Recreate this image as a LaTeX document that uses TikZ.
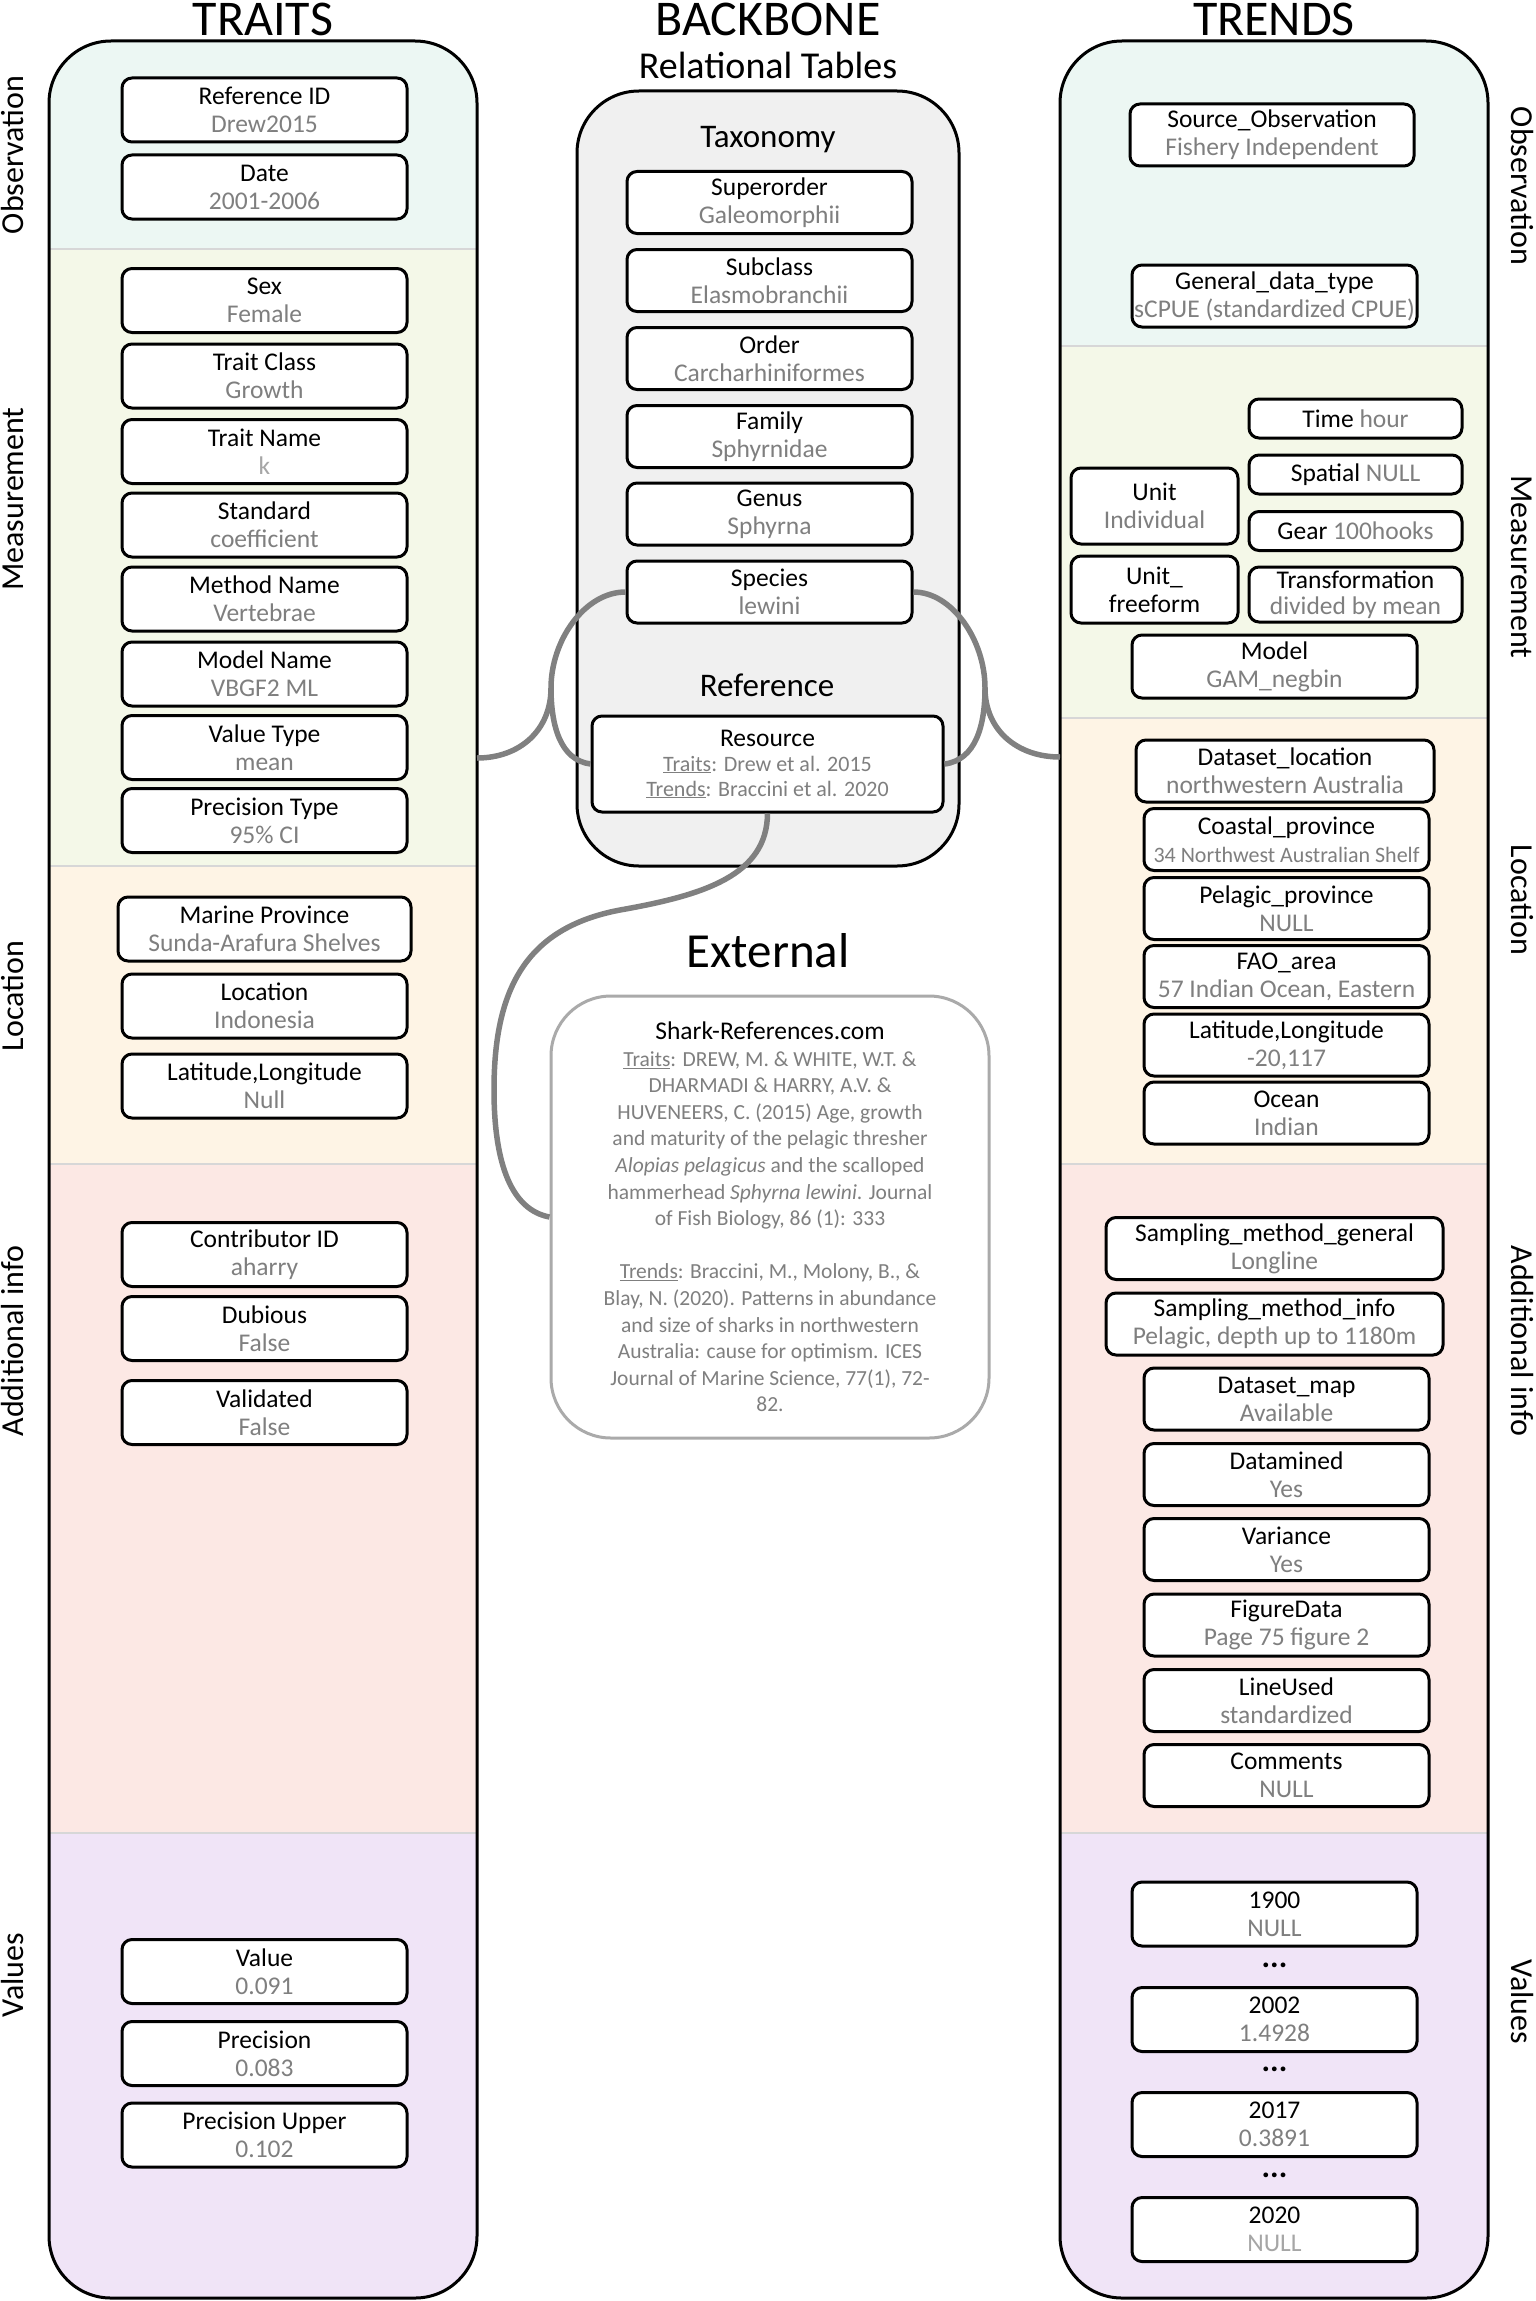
\documentclass[tikz,border=0pt]{standalone}
\usepackage{fontspec}
\setmainfont{Carlito}
\usepackage{xcolor}
\usepackage{tikz}
\usetikzlibrary{positioning}
\definecolor{obsband}{RGB}{236,247,243}
\definecolor{measband}{RGB}{244,248,232}
\definecolor{locband}{RGB}{254,244,229}
\definecolor{addband}{RGB}{252,232,228}
\definecolor{valband}{RGB}{240,228,247}
\definecolor{bonefill}{RGB}{240,240,240}
\definecolor{valgray}{RGB}{127,127,127}
\definecolor{palegray}{RGB}{166,166,166}
\definecolor{linkgray}{RGB}{128,128,128}
\definecolor{sepgray}{RGB}{215,215,215}
\definecolor{extgray}{RGB}{170,170,170}

\newcommand{\gval}[1]{{\color{valgray}#1}}
\newcommand{\pgval}[1]{{\color{palegray}#1}}

\tikzset{
  field/.style={draw, rectangle, rounded corners=10pt, line width=3pt, fill=white,
    minimum width=285pt, minimum height=64pt, inner sep=2pt, align=center,
    font=\fontsize{25.5}{28}\selectfont},
  tfield/.style={field, minimum height=62pt},
  shortfield/.style={field, minimum width=213pt, minimum height=39pt},
  panel/.style={draw, line width=3pt, rounded corners=62pt},
  sepline/.style={draw=sepgray, line width=1.5pt},
  linkline/.style={draw=linkgray, line width=5.5pt},
  heading/.style={font=\fontsize{50}{50}\selectfont, anchor=base, inner sep=0pt},
  subheading/.style={font=\fontsize{33}{33}\selectfont, anchor=base, inner sep=0pt},
  sidelabel/.style={font=\fontsize{32}{32}\selectfont, inner sep=0pt},
  dotsrow/.style={font=\fontsize{32}{32}\selectfont\bfseries, inner sep=0pt}
}

\begin{document}
\begin{tikzpicture}[x=1pt, y=-1pt]
\useasboundingbox (0,0) rectangle (1535,2301);

% traits panel
\begin{scope}
  \clip[rounded corners=62pt] (49,41) rectangle (477,2298);
  \fill[obsband] (49,41) rectangle (477,249);
  \fill[measband] (49,249) rectangle (477,866);
  \fill[locband] (49,866) rectangle (477,1164);
  \fill[addband] (49,1164) rectangle (477,1833);
  \fill[valband] (49,1833) rectangle (477,2298);
\end{scope}
\foreach \y in {249,866,1164,1833} \draw[sepline] (49,\y) -- (477,\y);
\draw[panel] (49,41) rectangle (477,2298);

% trends panel
\begin{scope}
  \clip[rounded corners=62pt] (1060,41) rectangle (1488,2298);
  \fill[obsband] (1060,41) rectangle (1488,346);
  \fill[measband] (1060,346) rectangle (1488,718);
  \fill[locband] (1060,718) rectangle (1488,1164);
  \fill[addband] (1060,1164) rectangle (1488,1833);
  \fill[valband] (1060,1833) rectangle (1488,2298);
\end{scope}
\foreach \y in {346,718,1164,1833} \draw[sepline] (1060,\y) -- (1488,\y);
\draw[panel] (1060,41) rectangle (1488,2298);

% backbone panel
\draw[panel, fill=bonefill] (577,91) rectangle (959,866);

% titles
\node[heading] (traitstitle) at (263,36) {TRAITS};
\node[heading] (bonetitle) at (768,36) {BACKBONE};
\node[heading] (trendstitle) at (1274,36) {TRENDS};
\node[subheading, font=\fontsize{38}{38}\selectfont] (reltables) at (768,79) {Relational Tables};
\node[subheading] (taxonomy) at (768,148) {Taxonomy};
\node[subheading] (reftitle) at (767,696) {Reference};
\node[heading, font=\fontsize{49}{49}\selectfont] (exttitle) at (768,967) {External};

% side labels
\node[sidelabel, rotate=90] (lobs) at (13,155) {Observation};
\node[sidelabel, rotate=90] (lmeas) at (13,499) {Measurement};
\node[sidelabel, rotate=90] (lloc) at (13,996) {Location};
\node[sidelabel, rotate=90] (ladd) at (13,1341) {Additional info};
\node[sidelabel, rotate=90] (lval) at (13,1975) {Values};
\node[sidelabel, rotate=-90] (robs) at (1522,186) {Observation};
\node[sidelabel, rotate=-90] (rmeas) at (1522,567) {Measurement};
\node[sidelabel, rotate=-90] (rloc) at (1522,900) {Location};
\node[sidelabel, rotate=-90] (radd) at (1522,1341) {Additional info};
\node[sidelabel, rotate=-90] (rval) at (1522,2002) {Values};

% traits fields
\node[field] (refid) at (264.5,110) {Reference ID\\\gval{Drew2015}};
\node[field] (date) at (264.5,187) {Date\\\gval{2001-2006}};
\node[field] (sex) at (264.5,300.5) {Sex\\\gval{Female}};
\node[field] (tclass) at (264.5,376) {Trait Class\\\gval{Growth}};
\node[field] (tname) at (264.5,451.5) {Trait Name\\\pgval{k}};
\node[field] (standard) at (264.5,525) {Standard\\\gval{coefficient}};
\node[field] (method) at (264.5,599) {Method Name\\\gval{Vertebrae}};
\node[field] (modelname) at (264.5,674) {Model Name\\\gval{VBGF2 ML}};
\node[field] (vtype) at (264.5,747.5) {Value Type\\\gval{mean}};
\node[field] (ptype) at (264.5,820.5) {Precision Type\\\gval{95\% CI}};
\node[field, minimum width=293pt] (mprov) at (264.5,929) {Marine Province\\\gval{Sunda-Arafura Shelves}};
\node[field] (location) at (264.5,1006) {Location\\\gval{Indonesia}};
\node[field] (latlon) at (264.5,1086) {Latitude,Longitude\\\gval{Null}};
\node[field] (contrib) at (264.5,1254.5) {Contributor ID\\\gval{aharry}};
\node[field] (dubious) at (264.5,1328.5) {Dubious\\\gval{False}};
\node[field] (validated) at (264.5,1412.5) {Validated\\\gval{False}};
\node[field] (value) at (264.5,1971.5) {Value\\\gval{0.091}};
\node[field] (precision) at (264.5,2053.5) {Precision\\\gval{0.083}};
\node[field] (pupper) at (264.5,2135) {Precision Upper\\\gval{0.102}};

% backbone fields
\node[tfield] (superorder) at (769.5,202.5) {Superorder\\\gval{Galeomorphii}};
\node[tfield] (subclass) at (769.5,280.5) {Subclass\\\gval{Elasmobranchii}};
\node[tfield] (order) at (769.5,358.5) {Order\\\gval{Carcharhiniformes}};
\node[tfield] (family) at (769.5,436.5) {Family\\\gval{Sphyrnidae}};
\node[tfield] (genus) at (769.5,514) {Genus\\\gval{Sphyrna}};
\node[tfield] (species) at (769.5,592) {Species\\\gval{lewini}};
\node[field, minimum width=351pt, minimum height=96pt, font=\fontsize{25.5}{25}\selectfont] (resource) at (767.5,764)
  {Resource\\{\fontsize{22}{25}\selectfont\color{valgray}\underline{Traits}: Drew et al. 2015}\\{\fontsize{22}{25}\selectfont\color{valgray}\underline{Trends}: Braccini et al. 2020}};

% external reference
\node[draw=extgray, line width=3pt, rounded corners=60pt, fill=white, minimum width=438pt, minimum height=442pt,
  align=center, text=valgray, font=\fontsize{21.5}{26.6}\selectfont] (ext) at (770,1217) {
  {\color{black}\fontsize{25.5}{26.6}\selectfont Shark-References.com}\\
  \underline{Traits}: DREW, M. \& WHITE, W.T. \&\\
  DHARMADI \& HARRY, A.V. \&\\
  HUVENEERS, C. (2015) Age, growth\\
  and maturity of the pelagic thresher\\
  \textit{Alopias pelagicus} and the scalloped\\
  hammerhead \textit{Sphyrna lewini}. Journal\\
  of Fish Biology, 86 (1): 333\\[26.6pt]
  \underline{Trends}: Braccini, M., Molony, B., \&\\
  Blay, N. (2020). Patterns in abundance\\
  and size of sharks in northwestern\\
  Australia: cause for optimism. ICES\\
  Journal of Marine Science, 77(1), 72-\\
  82.};

% trends fields
\node[tfield, minimum width=284pt] (srcobs) at (1272,135) {Source\_Observation\\\gval{Fishery Independent}};
\node[tfield] (gentype) at (1274.5,296) {General\_data\_type\\\gval{sCPUE (standardized CPUE)}};
\node[shortfield] (timeh) at (1355.5,418.5) {Time \gval{hour}};
\node[shortfield] (spatial) at (1355.5,474.5) {Spatial \gval{NULL}};
\node[shortfield] (gear) at (1355.5,531) {Gear \gval{100hooks}};
\node[field, minimum width=213pt, minimum height=55pt, font=\fontsize{25.5}{26}\selectfont] (transf) at (1355.5,594.5) {Transformation\\\gval{divided by mean}};
\node[field, minimum width=167pt, minimum height=76pt] (unit) at (1154.5,506) {Unit\\\gval{Individual}};
\node[field, minimum width=167pt, minimum height=67pt] (unitfree) at (1154.5,589.5) {Unit\_\\freeform};
\node[tfield, minimum height=63pt] (model) at (1274.5,666.5) {Model\\\gval{GAM\_negbin}};
\node[tfield, minimum width=298pt] (dsloc) at (1285,771) {Dataset\_location\\\gval{northwestern Australia}};
\node[tfield] (coastal) at (1286.5,839.5) {Coastal\_province\\{\fontsize{22}{28}\selectfont\color{valgray}34 Northwest Australian Shelf}};
\node[tfield] (pelagic) at (1286.5,908.5) {Pelagic\_province\\\gval{NULL}};
\node[tfield] (fao) at (1286.5,976.5) {FAO\_area\\\gval{57 Indian Ocean, Eastern}};
\node[tfield] (latlon2) at (1286.5,1045) {Latitude,Longitude\\\gval{-20,117}};
\node[tfield] (ocean) at (1286.5,1113) {Ocean\\\gval{Indian}};
\node[tfield, minimum width=337pt] (sampgen) at (1274.5,1248.5) {Sampling\_method\_general\\\gval{Longline}};
\node[tfield, minimum width=337pt] (sampinfo) at (1274.5,1324) {Sampling\_method\_info\\\gval{Pelagic, depth up to 1180m}};
\node[tfield] (dsmap) at (1286.5,1399) {Dataset\_map\\\gval{Available}};
\node[tfield] (datamined) at (1286.5,1474.5) {Datamined\\\gval{Yes}};
\node[tfield] (variance) at (1286.5,1549.5) {Variance\\\gval{Yes}};
\node[tfield] (figdata) at (1286.5,1625) {FigureData\\\gval{Page 75 figure 2}};
\node[tfield] (lineused) at (1286.5,1700.5) {LineUsed\\\gval{standardized}};
\node[tfield] (comments) at (1286.5,1775.5) {Comments\\\gval{NULL}};
\node[field] (y1900) at (1274.5,1914) {1900\\\gval{NULL}};
\node[dotsrow] (dotsa) at (1274.5,1965) {...};
\node[field] (y2002) at (1274.5,2019.5) {2002\\\gval{1.4928}};
\node[dotsrow] (dotsb) at (1274.5,2069) {...};
\node[field] (y2017) at (1274.5,2124.5) {2017\\\gval{0.3891}};
\node[dotsrow] (dotsc) at (1274.5,2175) {...};
\node[field] (y2020) at (1274.5,2229.5) {2020\\\pgval{NULL}};

% connectors
\coordinate (traitsport) at (477,758);
\coordinate (trendsport) at (1060,757);
\coordinate (ljoin) at (551,688);
\coordinate (rjoin) at (985,688);
\coordinate (bend1) at (620,910);
\coordinate (bend2) at (494,1090);
\draw[linkline] (species.west) .. controls (585,592) and (551,640) .. (ljoin)
  .. controls (551,725) and (560,760) .. (resource.west);
\draw[linkline] (traitsport) .. controls (520,758) and (551,730) .. (ljoin);
\draw[linkline] (species.east) .. controls (952,592) and (985,640) .. (rjoin)
  .. controls (985,725) and (976,760) .. (resource.east);
\draw[linkline] (trendsport) .. controls (1017,757) and (985,730) .. (rjoin);
\draw[linkline] (resource.south) .. controls (767,875) and (705,895) .. (bend1)
  .. controls (525,928) and (494,990) .. (bend2)
  .. controls (494,1165) and (512,1210) .. (ext.west);
\end{tikzpicture}
\end{document}
